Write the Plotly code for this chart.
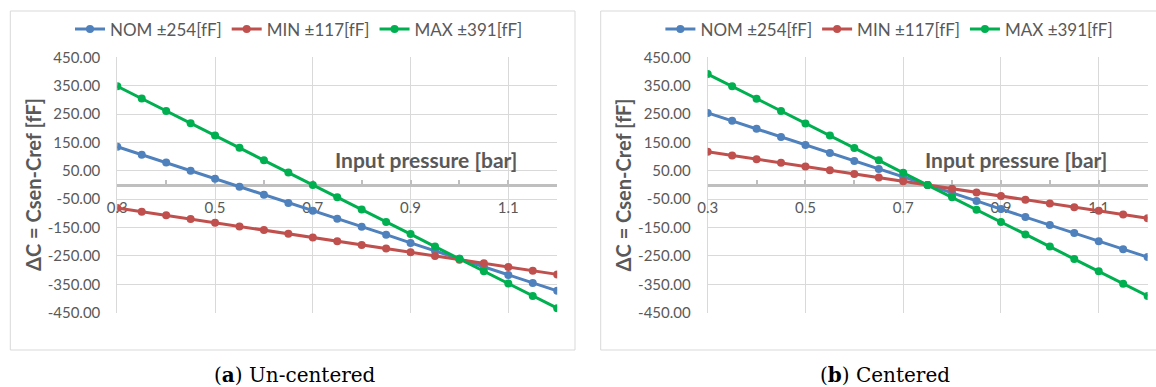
import plotly.graph_objects as go

W, H = 1156, 387

# ---------------- data ----------------
pressure = [0.30, 0.35, 0.40, 0.45, 0.50, 0.55, 0.60, 0.65, 0.70, 0.75,
            0.80, 0.85, 0.90, 0.95, 1.00, 1.05, 1.10, 1.15, 1.20]

series_names = ["NOM \u00b1254[fF]", "MIN \u00b1117[fF]", "MAX \u00b1391[fF]"]

# (a) Un-centered
a_nom = [135, 107, 79, 50, 22, -6, -34, -63, -91, -119,
         -147, -175, -204, -232, -260, -288, -317, -345, -373]
a_min = [-81, -94, -107, -120, -133, -146, -159, -172, -185, -198,
         -211, -224, -237, -250, -263, -276, -289, -302, -315]
a_max = [348, 305, 261, 218, 174, 131, 87, 44, 0, -43,
         -86, -130, -173, -217, -260, -304, -347, -391, -434]

# (b) Centered
b_nom = [254, 226, 198, 169, 141, 113, 85, 56, 28, 0,
         -28, -56, -85, -113, -141, -169, -198, -226, -254]
b_min = [117, 104, 91, 78, 65, 52, 39, 26, 13, 0,
         -13, -26, -39, -52, -65, -78, -91, -104, -117]
b_max = [391, 348, 304, 261, 217, 174, 130, 87, 43, 0,
         -43, -87, -130, -174, -217, -261, -304, -348, -391]

y_ticks = [450, 350, 250, 150, 50, -50, -150, -250, -350, -450]
x_ticks = [0.3, 0.5, 0.7, 0.9, 1.1]

captions = [("a", "Un-centered"), ("b", "Centered")]

colors = ["#4F81BD", "#C0504D", "#00B050"]

# ---------------- layout helpers ----------------
def px_x(p):
    return p / W

def px_y(p):
    return 1 - p / H

GRAY_TXT = "#595959"
GRID = "#d9d9d9"
FONT = "Lato, 'Open Sans', sans-serif"

fig = go.Figure()

panels = [
    (a_nom, a_min, a_max),
    (b_nom, b_min, b_max),
]
shift = 590.4
plot_left = 117.3
plot_right = 557.2
y_top, y_bot = 57.3, 312.7

for i, (nom, mn, mx) in enumerate(panels):
    xa = "x" if i == 0 else "x2"
    ya = "y" if i == 0 else "y2"
    leg = "legend" if i == 0 else "legend2"
    for name, vals, col in zip(series_names, (nom, mn, mx), colors):
        fig.add_trace(go.Scatter(
            x=pressure, y=vals, name=name, mode="lines+markers",
            line=dict(color=col, width=3),
            marker=dict(color=col, size=8),
            xaxis=xa, yaxis=ya, legend=leg,
        ))

layout = dict(
    width=W, height=H,
    margin=dict(l=0, r=0, t=0, b=0, pad=0, autoexpand=False),
    paper_bgcolor="white", plot_bgcolor="white",
    font=dict(family=FONT, color=GRAY_TXT, size=15),
    shapes=[], annotations=[],
)

y_dom = [px_y(y_bot), px_y(y_top)]
zero_paper = (y_dom[0] + y_dom[1]) / 2

for i in range(2):
    off = shift * i
    sfx = "" if i == 0 else "2"
    xdom = [px_x(plot_left + off), px_x(plot_right + off)]
    layout["xaxis" + sfx] = dict(
        domain=xdom, range=[0.3, 1.2], anchor="free", position=zero_paper,
        tickmode="array", tickvals=x_ticks, ticktext=[str(v) for v in x_ticks],
        showgrid=True, gridcolor=GRID, gridwidth=1,
        showline=True, linecolor="#bfbfbf", linewidth=3,
        ticks="inside", ticklen=4, tickwidth=2, tickcolor="#bfbfbf",
        minor=dict(tickmode="linear", tick0=0.3, dtick=0.1, ticks="inside",
                   ticklen=4, tickwidth=2, tickcolor="#bfbfbf", showgrid=False),
        zeroline=False, layer="below traces", automargin=False,
        tickfont=dict(size=15, color=GRAY_TXT, family=FONT),
        ticklabelstandoff=8, fixedrange=True,
    )
    layout["yaxis" + sfx] = dict(
        domain=y_dom, range=[-450, 450], anchor="x" + sfx,
        tickmode="array", tickvals=y_ticks,
        ticktext=[f"{v:.2f}" for v in y_ticks],
        showgrid=True, gridcolor=GRID, gridwidth=1,
        showline=True, linecolor=GRID, linewidth=1,
        ticks="", zeroline=False, layer="below traces", automargin=False,
        tickfont=dict(size=15, color=GRAY_TXT, family=FONT),
        ticklabelstandoff=13, fixedrange=True,
    )
    legname = "legend" if i == 0 else "legend2"
    layout[legname] = dict(
        orientation="h", x=px_x(70 + off), xanchor="left",
        y=px_y(29.5), yanchor="middle",
        font=dict(size=17, color=GRAY_TXT, family=FONT),
        bgcolor="rgba(0,0,0,0)", itemwidth=30, tracegroupgap=0,
    )
    # frame
    layout["shapes"].append(dict(
        type="rect", xref="paper", yref="paper",
        x0=px_x(10.3 + off), x1=px_x(575 + off),
        y0=px_y(350), y1=px_y(11),
        line=dict(color=GRID, width=1), fillcolor="rgba(0,0,0,0)", layer="below",
    ))
    # x-axis title
    layout["annotations"].append(dict(
        text="<b>Input pressure [bar]</b>", showarrow=False,
        xref=f"x{sfx} domain", yref=f"y{sfx} domain",
        x=(519 - plot_left) / (plot_right - plot_left), xanchor="right",
        y=(y_bot - 159) / (y_bot - y_top), yanchor="middle",
        font=dict(size=21, color=GRAY_TXT, family=FONT),
    ))
    # y-axis title
    layout["annotations"].append(dict(
        text="<b>\u0394C = Csen-Cref [fF]</b>", showarrow=False, textangle=-90,
        xref="paper", yref=f"y{sfx} domain",
        x=px_x(33 + off), xanchor="center", y=0.5, yanchor="middle",
        font=dict(size=20, color=GRAY_TXT, family=FONT),
    ))
    # caption
    letter, word = captions[i]
    layout["annotations"].append(dict(
        text=f"(<b>{letter}</b>) {word}", showarrow=False,
        xref="paper", yref="paper",
        x=px_x(295 + off), xanchor="center", y=px_y(375), yanchor="middle",
        font=dict(size=20, color="black", family="DejaVu Serif, serif"),
    ))

fig.update_layout(**layout)
fig.update_layout(showlegend=True)
fig.write_html(
    "out.html",
    config={"displayModeBar": False},
    post_script="document.documentElement.style.margin='0';"
                "document.body.style.margin='0';document.body.style.padding='0';"
                "document.body.style.overflow='hidden';",
)
